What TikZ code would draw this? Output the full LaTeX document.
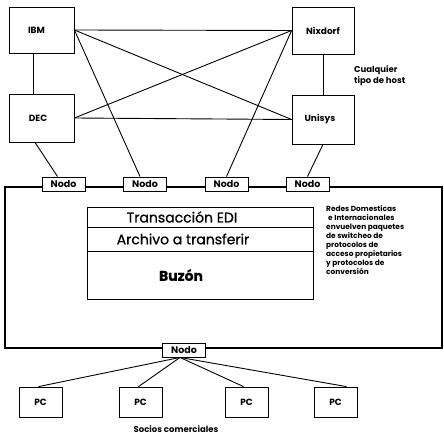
\documentclass[tikz,border=0pt]{standalone}
\usepackage{fontspec}
\setmainfont{Poppins}
\newfontfamily\stackfont[FakeBold=0.8]{Poppins}
\begin{document}
\begin{tikzpicture}[x=1pt,y=-1pt,
  host/.style={draw,line width=0.8pt,inner sep=0pt,font=\bfseries\fontsize{9}{10}\selectfont},
  nodo/.style={draw,fill=white,line width=0.9pt,minimum width=43pt,minimum height=14pt,inner sep=0pt,font=\bfseries\fontsize{9.5}{10}\selectfont},
  pc/.style={draw,line width=0.8pt,minimum width=43pt,minimum height=30pt,inner sep=0pt,font=\bfseries\fontsize{9}{10}\selectfont},
  link/.style={line width=0.9pt},
  row/.style={draw,line width=0.8pt,minimum width=226pt,inner sep=0pt,font=\stackfont\fontsize{14}{15}\selectfont},
  note/.style={align=left,anchor=north west,inner sep=0pt}]
\useasboundingbox (0,0) rectangle (444,438);
% network cloud
\node[draw,line width=1.1pt,minimum width=437pt,minimum height=161pt,inner sep=0pt] (red) at (223.5,267.5) {};
% hosts
\node[host,minimum width=65pt,minimum height=46pt] (ibm) at (41.5,30) {IBM\hspace*{10pt}};
\node[host,minimum width=65pt,minimum height=48pt] (dec) at (41.5,118) {DEC\hspace*{7pt}};
\node[host,minimum width=62pt,minimum height=47pt] (nix) at (323,30.5) {Nixdorf};
\node[host,minimum width=62pt,minimum height=49pt] (uni) at (323,119.5) {Unisys\hspace*{6pt}};
\node[note,font=\bfseries\fontsize{8.5}{11}\selectfont] (host) at (354,65) {Cualquier\\tipo de host};
% nodes on the network
\node[nodo] (n1) at (63.5,184) {Nodo};
\node[nodo] (n2) at (145,184) {Nodo};
\node[nodo] (n3) at (226.5,184) {Nodo};
\node[nodo] (n4) at (307.5,184) {Nodo};
\node[nodo] (n5) at (184,350) {Nodo};
% stack
\node[row,minimum height=20pt] (r1) at (200,217) {Transacción EDI\hspace*{36pt}};
\node[row,minimum height=24pt] (r2) at (200,239) {Archivo a transferir\hspace*{34pt}};
\node[row,minimum height=48pt] (r3) at (200,275) {\bfseries Buzón\hspace*{38pt}};
\node[note,font=\bfseries\fontsize{7.4}{9}\selectfont] (desc) at (326,205) {Redes Domesticas\\\hspace*{2pt}e Internacionales\\envuelven paquetes\\de switcheo de\\protocolos de\\acceso propietarios\\y protocolos de\\conversión};
% PCs
\node[pc] (pc1) at (40.5,402) {PC};
\node[pc] (pc2) at (140.5,402) {PC};
\node[pc] (pc3) at (246.5,402) {PC};
\node[pc] (pc4) at (335.5,402) {PC};
\node[font=\bfseries\fontsize{8.5}{10}\selectfont] (socios) at (176,429) {Socios comerciales};
% connectors
\draw[link] ([xshift=-8.5pt]ibm.south) -- ([xshift=-8.5pt]dec.north);
\draw[link] (nix.south) -- (uni.north);
\draw[link] (ibm.east) -- (nix.west);
\draw[link] (ibm.east) -- (uni.west);
\draw[link] (ibm.east) -- ([xshift=-5pt]n2.north);
\draw[link] (dec.east) -- (nix.west);
\draw[link] (dec.east) -- (uni.west);
\draw[link] (nix.west) -- (n3.north);
\draw[link] ([xshift=-6.5pt]dec.south) -- ([xshift=-6pt]n1.north);
\draw[link] (uni.south) -- (n4.north);
\draw[link] ([xshift=-4pt]n5.south) -- ([xshift=-2pt]pc1.north);
\draw[link] ([xshift=-4pt]n5.south) -- ([xshift=-2pt]pc2.north);
\draw[link] ([xshift=-4pt]n5.south) -- ([xshift=-3pt]pc3.north);
\draw[link] ([xshift=-4pt]n5.south) -- ([xshift=11pt]pc4.north);
\end{tikzpicture}
\end{document}
